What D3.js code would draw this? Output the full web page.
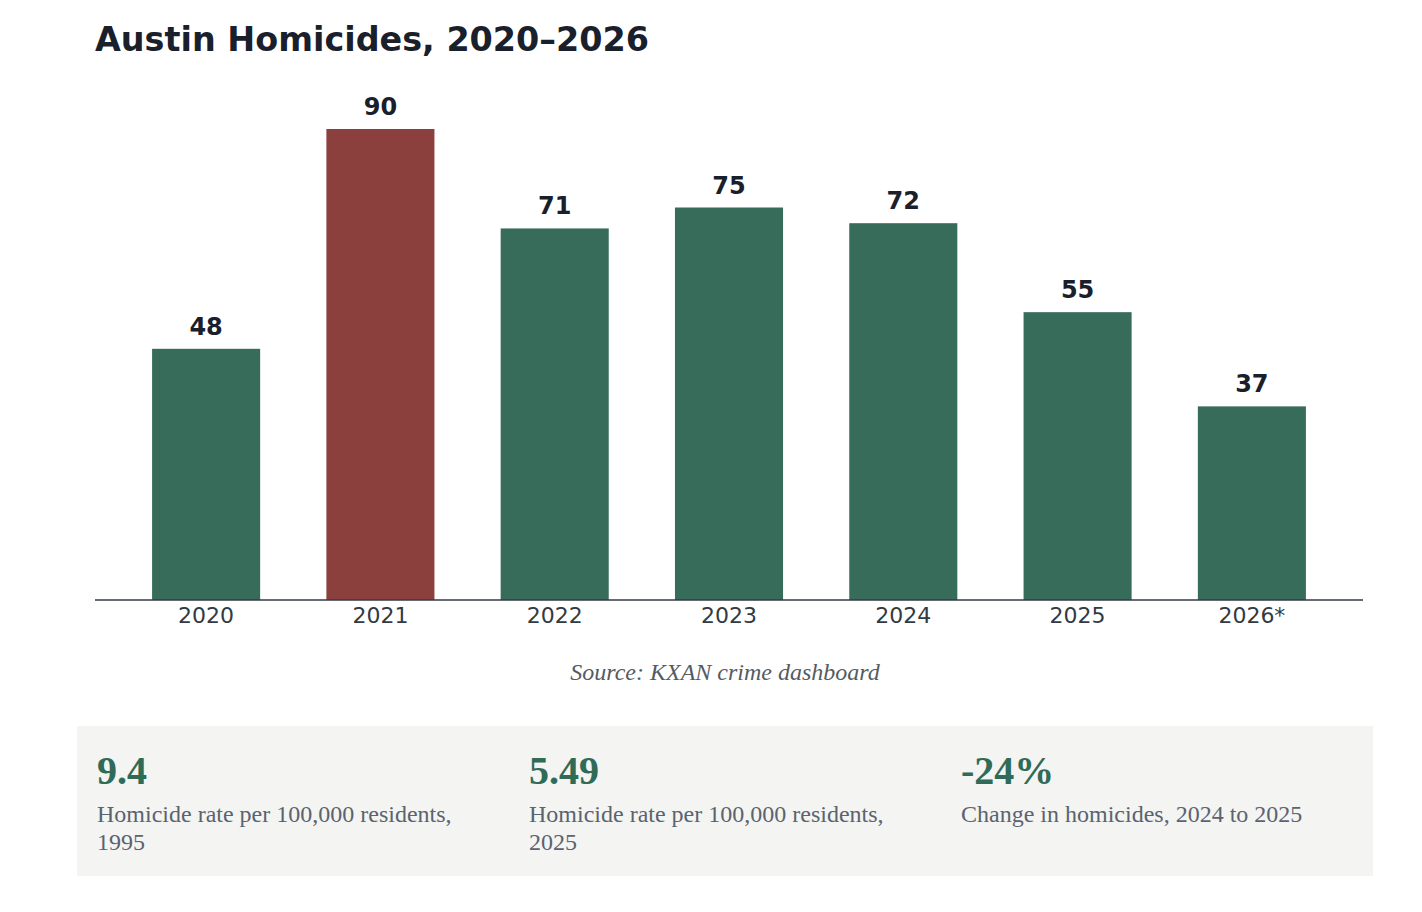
<!DOCTYPE html>
<html><head><meta charset="utf-8">
<script src="https://cdn.jsdelivr.net/npm/d3@7"></script>
<style>
html,body{margin:0;padding:0;background:#fff;}
svg{display:block;}
</style></head>
<body>
<svg id="chart" width="1422" height="912"></svg>
<script>
const years = ["2020","2021","2022","2023","2024","2025","2026*"];
const homicides = [48, 90, 71, 75, 72, 55, 37];
const highlightYear = "2021";
const statValues = ["9.4", "5.49", "-24%"];
const statLabels = [
  ["Homicide rate per 100,000 residents,", "1995"],
  ["Homicide rate per 100,000 residents,", "2025"],
  ["Change in homicides, 2024 to 2025"]
];
const titleText = "Austin Homicides, 2020\u20132026";
const sourceText = "Source: KXAN crime dashboard";

const green = "#376c5b", red = "#8b403d";
const svg = d3.select("#chart");

const x = d3.scaleBand().domain(years).range([95, 1363]).paddingInner(0.38).paddingOuter(0.3275);
const y = d3.scaleLinear().domain([0, d3.max(homicides)]).range([600, 129]);

svg.append("text").attr("x", 95).attr("y", 51)
  .attr("font-family", "DejaVu Sans").attr("font-weight", "bold").attr("font-size", 33.4)
  .attr("fill", "#19202b").text(titleText);

const data = years.map((yr, i) => ({yr, v: homicides[i]}));

svg.selectAll("rect.bar").data(data).enter().append("rect")
  .attr("class", "bar")
  .attr("x", d => x(d.yr)).attr("width", x.bandwidth())
  .attr("y", d => y(d.v)).attr("height", d => y(0) - y(d.v))
  .attr("fill", d => d.yr === highlightYear ? red : green);

svg.selectAll("text.val").data(data).enter().append("text")
  .attr("class", "val")
  .attr("x", d => x(d.yr) + x.bandwidth()/2).attr("y", d => y(d.v) - 14)
  .attr("text-anchor", "middle")
  .attr("font-family", "DejaVu Sans").attr("font-weight", "bold").attr("font-size", 24)
  .attr("fill", "#19202b").text(d => d.v);

const axis = svg.append("g").attr("transform", "translate(0,600)")
  .call(d3.axisBottom(x).tickSize(0).tickPadding(7));
axis.select(".domain").attr("d", "M95,0H1363").attr("stroke", "#333a42").attr("stroke-width", 1.6);
axis.selectAll(".tick text").attr("font-family", "DejaVu Sans").attr("font-size", 22)
  .attr("fill", "#333a42").attr("dy", "0.71em");

svg.append("text").attr("x", 725).attr("y", 680).attr("text-anchor", "middle")
  .attr("font-family", "Liberation Serif").attr("font-style", "italic").attr("font-size", 24)
  .attr("fill", "#555b62").text(sourceText);

svg.append("rect").attr("x", 77).attr("y", 726).attr("width", 1296).attr("height", 150)
  .attr("fill", "#f4f4f2");

const sx = d3.scaleBand().domain(d3.range(statValues.length)).range([77, 1373]);
const stats = svg.selectAll("g.stat").data(statValues).enter().append("g")
  .attr("class", "stat").attr("transform", (d, i) => `translate(${sx(i) + 20},0)`);
stats.append("text").attr("x", 0).attr("y", 784)
  .attr("font-family", "Liberation Serif").attr("font-weight", "bold").attr("font-size", 40)
  .attr("fill", "#2f6b57").text(d => d);
stats.each(function(d, i) {
  d3.select(this).selectAll("text.lab").data(statLabels[i]).enter().append("text")
    .attr("class", "lab").attr("x", 0).attr("y", (t, j) => 822 + j * 28)
    .attr("font-family", "Liberation Serif").attr("font-size", 24)
    .attr("fill", "#5a6370").text(t => t);
});
</script>
</body></html>
